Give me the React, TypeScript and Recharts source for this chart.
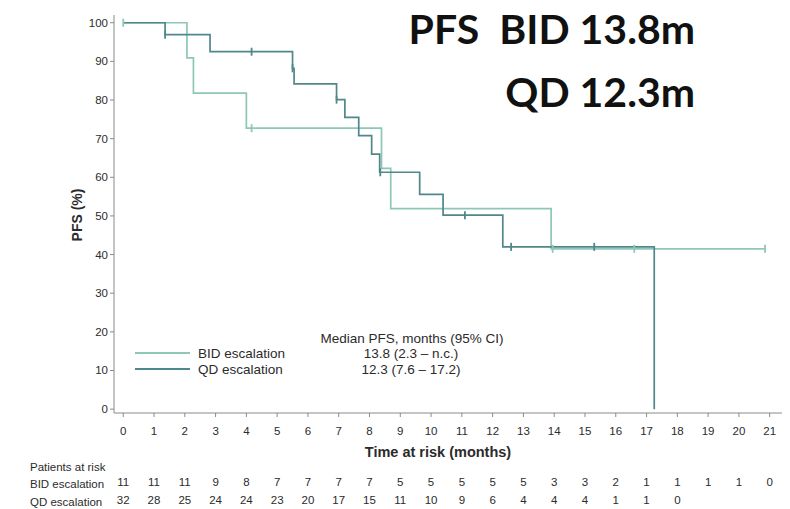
import React from 'react';
import { ComposedChart, Line, Scatter, XAxis, YAxis } from 'recharts';

// Kaplan-Meier steps: time (months) and PFS (%) at each event
const bidTime = [0, 2.07, 2.28, 4.0, 8.39, 8.69, 13.9, 20.88];
const bidPfs = [100, 90.9, 81.8, 72.7, 62.3, 51.9, 41.5, 41.5];
const qdTime = [0, 1.36, 2.82, 5.5, 5.55, 6.93, 7.2, 7.65, 8.07, 8.33, 9.63, 10.39, 12.33, 17.25];
const qdPfs = [100, 96.9, 92.5, 88.2, 84.2, 80.1, 75.5, 70.8, 66.0, 61.3, 55.6, 50.2, 42.0, 0];

// censored observations
const bidCensorTime = [0, 4.17, 13.95, 16.6, 20.85];
const bidCensorPfs = [100, 72.7, 41.5, 41.5, 41.5];
const qdCensorTime = [1.36, 4.17, 5.5, 6.93, 8.35, 11.1, 12.6, 15.3];
const qdCensorPfs = [96.9, 92.5, 88.2, 80.1, 61.3, 50.2, 42.0, 42.0];

const monthTicks = [0, 1, 2, 3, 4, 5, 6, 7, 8, 9, 10, 11, 12, 13, 14, 15, 16, 17, 18, 19, 20, 21];
const pfsTicks = [0, 10, 20, 30, 40, 50, 60, 70, 80, 90, 100];

const bidAtRisk = [11, 11, 11, 9, 8, 7, 7, 7, 7, 5, 5, 5, 5, 5, 3, 3, 2, 1, 1, 1, 1, 0];
const qdAtRisk = [32, 28, 25, 24, 24, 23, 20, 17, 15, 11, 10, 9, 6, 4, 4, 4, 1, 1, 0];

const BID_COLOR = '#8ec7b8';
const QD_COLOR = '#4f878c';
const AXIS_COLOR = '#8a8a8a';
const TEXT_COLOR = '#2b2b2b';
const FONT = "'Liberation Sans', Arial, sans-serif";

const toRows = (t: number[], v: number[]) => t.map((x, i) => ({ t: x, pfs: v[i] }));

const bidData = toRows(bidTime, bidPfs);
const qdData = toRows(qdTime, qdPfs);
const bidCensors = toRows(bidCensorTime, bidCensorPfs);
const qdCensors = toRows(qdCensorTime, qdCensorPfs);

const censorMark = (color: string) => (props: any) => {
  const { cx, cy } = props;
  return <line x1={cx} y1={cy - 4} x2={cx} y2={cy + 4} stroke={color} strokeWidth={1.8} />;
};

// month label plus the patients-at-risk columns beneath it
const MonthTick = (props: any) => {
  const { x, y, payload } = props;
  const i = payload.index ?? monthTicks.indexOf(payload.value);
  return (
    <g fontFamily={FONT} fontSize={11.5} fill={TEXT_COLOR} textAnchor="middle">
      <text x={x} y={y + 16}>{payload.value}</text>
      {bidAtRisk[i] !== undefined && <text x={x} y={y + 67}>{bidAtRisk[i]}</text>}
      {qdAtRisk[i] !== undefined && <text x={x} y={y + 85}>{qdAtRisk[i]}</text>}
    </g>
  );
};

const PfsTick = (props: any) => {
  const { x, y, payload } = props;
  return (
    <text x={x} y={y + 4} textAnchor="end" fontFamily={FONT} fontSize={11.5} fill={TEXT_COLOR}>
      {payload.value}
    </text>
  );
};

export default function App() {
  return (
    <div style={{ position: 'absolute', left: 0, top: 0, width: 790, height: 509, background: '#fff' }}>
      <ComposedChart width={790} height={509} margin={{ top: 15, right: 8, bottom: 66, left: 84 }}>
        <XAxis
          type="number"
          dataKey="t"
          domain={[-0.3, 21.4]}
          ticks={monthTicks}
          allowDataOverflow
          interval={0}
          height={30}
          stroke={AXIS_COLOR}
          tickSize={4}
          tick={<MonthTick />}
        />
        <YAxis
          type="number"
          dataKey="pfs"
          domain={[-1, 102]}
          ticks={pfsTicks}
          allowDataOverflow
          interval={0}
          width={30}
          stroke={AXIS_COLOR}
          tickSize={4}
          tick={<PfsTick />}
        />
        <Line data={bidData} dataKey="pfs" type="stepAfter" stroke={BID_COLOR} strokeWidth={1.7} dot={false} activeDot={false} isAnimationActive={false} />
        <Line data={qdData} dataKey="pfs" type="stepAfter" stroke={QD_COLOR} strokeWidth={1.7} dot={false} activeDot={false} isAnimationActive={false} />
        <Scatter data={bidCensors} dataKey="pfs" shape={censorMark(BID_COLOR)} isAnimationActive={false} />
        <Scatter data={qdCensors} dataKey="pfs" shape={censorMark(QD_COLOR)} isAnimationActive={false} />
      </ComposedChart>

      <svg width={790} height={509} style={{ position: 'absolute', left: 0, top: 0, pointerEvents: 'none' }}>
        <g fontFamily="Lato, 'Open Sans', sans-serif" fontWeight={700} fontSize={41} fill="#111" textAnchor="end">
          <text x={695} y={44} style={{ whiteSpace: 'pre' }}>PFS  BID 13.8m</text>
          <text x={695} y={107}>QD 12.3m</text>
        </g>

        <text
          transform="translate(82,215) rotate(-90)"
          textAnchor="middle"
          fontFamily={FONT}
          fontWeight={700}
          fontSize={14}
          fill={TEXT_COLOR}
        >
          PFS (%)
        </text>
        <text x={438} y={457} textAnchor="middle" fontFamily={FONT} fontWeight={700} fontSize={14.5} fill={TEXT_COLOR}>
          Time at risk (months)
        </text>

        <g fontFamily={FONT} fontSize={11.5} fill={TEXT_COLOR}>
          <text x={30} y={471}>Patients at risk</text>
          <text x={30} y={488}>BID escalation</text>
          <text x={30} y={506}>QD escalation</text>
        </g>

        <line x1={135} y1={353} x2={190} y2={353} stroke={BID_COLOR} strokeWidth={2} />
        <line x1={135} y1={369} x2={190} y2={369} stroke={QD_COLOR} strokeWidth={2} />
        <g fontFamily={FONT} fontSize={13.5} fill={TEXT_COLOR}>
          <text x={198} y={358}>BID escalation</text>
          <text x={198} y={374}>QD escalation</text>
          <text x={412} y={343} textAnchor="middle">Median PFS, months (95% CI)</text>
          <text x={411} y={358} textAnchor="middle">13.8 (2.3 – n.c.)</text>
          <text x={411} y={374} textAnchor="middle">12.3 (7.6 – 17.2)</text>
        </g>
      </svg>
    </div>
  );
}
